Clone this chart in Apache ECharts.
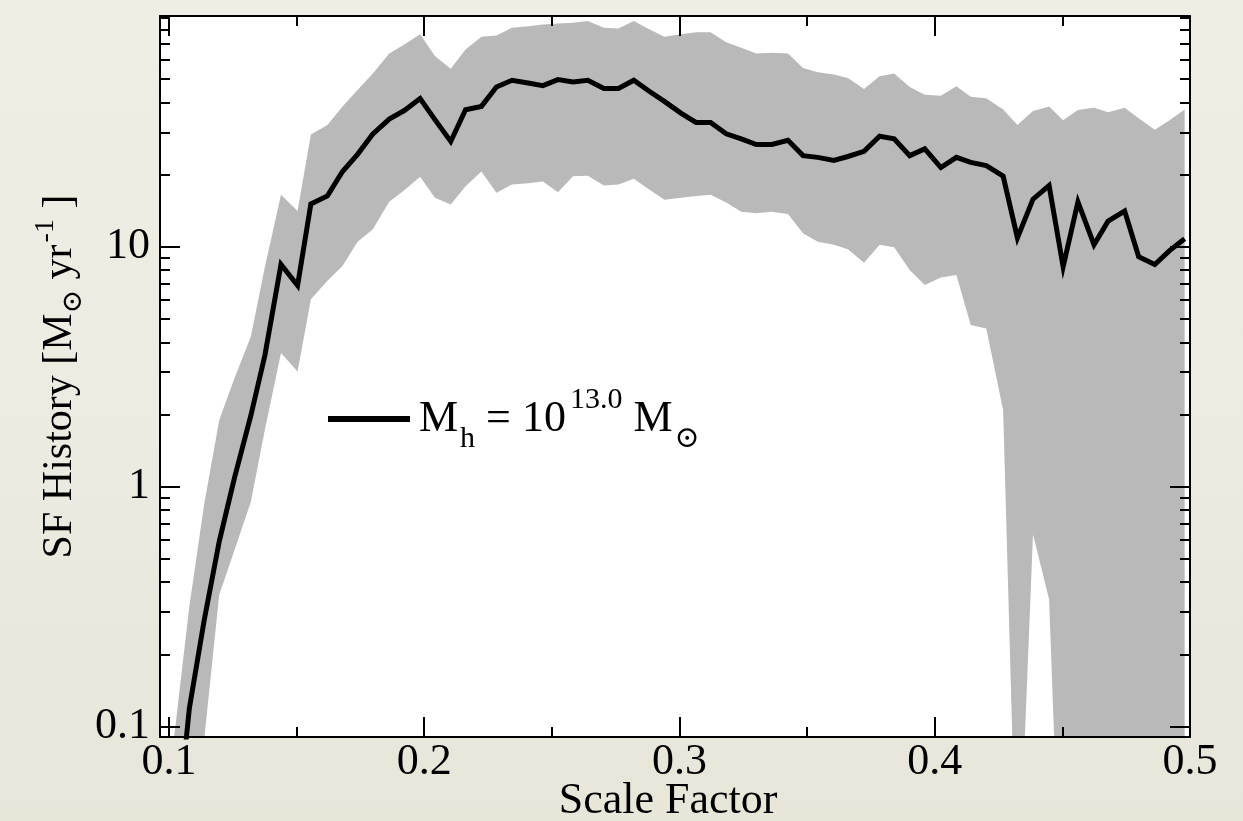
<!DOCTYPE html>
<html>
<head>
<meta charset="utf-8">
<script src="https://cdn.jsdelivr.net/npm/echarts@6/dist/echarts.min.js"></script>
<style>
html,body{margin:0;padding:0;width:1243px;height:821px;overflow:hidden;
  background:linear-gradient(180deg,#efeee5 0%,#ecebe1 55%,#e8e5d9 100%);}
#chart{width:1243px;height:821px;}
</style>
</head>
<body>
<div id="chart"></div>
<script>
// ---- data ----
const scaleFactor = [0.1018,0.1080,0.1138,0.1197,0.1256,0.1321,0.1376,0.1439,0.1504,0.1556,0.1621,0.1680,0.1739,0.1798,0.1863,0.1922,0.1984,0.2042,0.2104,0.2162,0.2224,0.2283,0.2344,0.2407,0.2465,0.2524,0.2583,0.2641,0.2704,0.2761,0.2821,0.2883,0.2941,0.3007,0.3065,0.3122,0.3183,0.3242,0.3301,0.3362,0.3425,0.3484,0.3542,0.3605,0.3660,0.3723,0.3784,0.3841,0.3902,0.3961,0.4024,0.4085,0.4141,0.4202,0.4268,0.4324,0.4385,0.4448,0.4503,0.4561,0.4624,0.4679,0.4744,0.4799,0.4862,0.4920,0.4979];
const sfrMedian = [0.027,0.119,0.277,0.59,1.08,1.98,3.53,8.44,6.9,15.1,16.3,20.6,24.3,29.5,34.1,37.0,41.5,33.9,27.5,37.3,38.5,46.4,49.5,48.2,47.0,49.8,48.7,49.5,45.7,45.7,49.5,44.4,40.4,36.0,33.0,33.0,29.6,28.2,26.7,26.7,27.8,24.0,23.6,22.9,23.8,25.0,28.9,28.2,24.0,25.6,21.4,23.6,22.5,21.8,19.7,10.9,15.8,18.0,8.25,15.4,10.2,12.8,14.1,9.1,8.44,9.64,10.8];
const sfrUpper = [0.086,0.317,0.845,1.89,2.82,4.23,8.26,16.5,14.1,29.4,32.2,38.5,45.1,52.7,63.9,69.8,77.0,62.4,55.2,66.5,75.2,76.1,81.9,83.2,84.5,85.3,85.9,87.3,81.9,81.3,87.3,80.5,75.2,77.0,78.5,78.5,71.3,67.6,64.0,64.4,64.0,55.7,53.4,52.3,50.6,45.5,51.4,52.8,46.4,43.1,42.6,46.7,42.2,41.6,37.4,32.2,36.8,38.5,33.7,37.2,38.0,36.4,38.0,34.4,30.8,33.7,37.4];
const sfrLower = [0.007,0.025,0.088,0.354,0.54,0.865,1.73,3.61,3.02,6.04,7.22,8.32,10.5,11.8,15.4,17.2,19.6,16.0,15.0,17.9,20.6,16.8,18.2,18.4,18.7,16.9,19.7,19.8,18.0,18.2,19.2,17.3,15.7,16.0,16.3,16.5,15.3,14.0,13.8,14.0,13.7,11.4,10.5,10.2,9.78,8.59,10.2,9.97,8.01,6.93,7.45,7.62,4.72,4.56,2.08,0.0155,0.632,0.339,0.0083,0.02,0.02,0.02,0.02,0.02,0.02,0.02,0.02];

const xMajorTicks = [0.1,0.2,0.3,0.4,0.5];
const xMinorTicks = [0.15,0.25,0.35,0.45];
const yMajorTicks = [0.1,1,10];
const yMinorTicks = [0.2,0.3,0.4,0.5,0.6,0.7,0.8,0.9,2,3,4,5,6,7,8,9,20,30,40,50,60,70,80,90];
const seriesName = 'Mh = 10^13.0 Msun';

// ---- chart ----
const FONT = '"Liberation Serif","DejaVu Serif","Times New Roman",serif';
const X_MIN = 0.0965, X_MAX = 0.5, Y_MIN = 0.0904, Y_MAX = 91.7;
const zip = (xs, ys) => xs.map((x, i) => [x, ys[i]]);

function xAxis(position, ticks, len, showLine, showLabels) {
  return {
    type: 'value', position, min: X_MIN, max: X_MAX, z: 10,
    axisLine: {show: showLine, onZero: false, lineStyle: {color: '#000', width: 2}},
    axisTick: {show: true, inside: true, length: len, customValues: ticks, lineStyle: {color: '#000', width: 2}},
    axisLabel: showLabels ? {show: true, customValues: ticks, formatter: v => v.toFixed(1),
      fontFamily: FONT, fontSize: 44, color: '#000', margin: 3} : {show: false},
    splitLine: {show: false}
  };
}
function yAxis(position, ticks, len, showLine, showLabels) {
  return {
    type: 'log', logBase: 10, position, min: Y_MIN, max: Y_MAX, z: 10,
    axisLine: {show: showLine, onZero: false, lineStyle: {color: '#000', width: 2}},
    axisTick: {show: true, inside: true, length: len, customValues: ticks, lineStyle: {color: '#000', width: 2}},
    axisLabel: showLabels ? {show: true, customValues: ticks, formatter: v => (v < 1 ? v.toFixed(1) : String(Math.round(v))),
      fontFamily: FONT, fontSize: 44, color: '#000', margin: 10} : {show: false},
    splitLine: {show: false}
  };
}

const xa0 = xAxis('bottom', xMajorTicks, 20, true, true);
xa0.name = 'Scale Factor';
xa0.nameLocation = 'middle';
xa0.nameGap = 42;
xa0.nameMoveOverlap = false;
xa0.nameTextStyle = {fontFamily: FONT, fontSize: 44, color: '#000', padding: [0, 14, 0, 0]};

const ya0 = yAxis('left', yMajorTicks, 20, true, true);
ya0.name = '{t|SF History [M}{sb|⊙}{t| yr}{sp|-1}{t| ]}';
ya0.nameLocation = 'middle';
ya0.nameRotate = 90;
ya0.nameGap = 72;
ya0.nameMoveOverlap = false;
ya0.nameTextStyle = {fontFamily: FONT, color: '#000', rich: {
  t: {fontFamily: FONT, fontSize: 42, color: '#000', lineHeight: 56},
  sb: {fontFamily: FONT, fontSize: 28, color: '#000', lineHeight: 28, verticalAlign: 'bottom'},
  sp: {fontFamily: FONT, fontSize: 28, color: '#000', lineHeight: 28, verticalAlign: 'top', padding: [0, 0, 0, 2]}
}};

const option = {
  animation: false,
  backgroundColor: 'transparent',
  grid: {left: 160, right: 53, top: 16, bottom: 84, show: true, backgroundColor: '#ffffff', borderWidth: 0,
         containLabel: false, outerBoundsMode: 'none'},
  xAxis: [
    xa0,
    xAxis('bottom', xMinorTicks, 10, false, false),
    xAxis('top', xMajorTicks, 20, true, false),
    xAxis('top', xMinorTicks, 10, false, false)
  ],
  yAxis: [
    ya0,
    yAxis('left', yMinorTicks, 10, false, false),
    yAxis('right', yMajorTicks, 20, true, false),
    yAxis('right', yMinorTicks, 10, false, false)
  ],
  legend: {
    data: [seriesName], selectedMode: false,
    left: 328, top: 379, padding: 0, icon: 'rect', itemWidth: 82, itemHeight: 6, itemGap: 0,
    formatter: () => '{m0|M}{sb|h}{m| = 10}{sp|13.0}{m| M}{sb|⊙}',
    textStyle: {fontFamily: FONT, color: '#000', fontSize: 44, rich: {
      m0: {fontFamily: FONT, fontSize: 44, color: '#000', lineHeight: 80, padding: [0, 0, 0, 4]},
      m: {fontFamily: FONT, fontSize: 44, color: '#000', lineHeight: 80},
      sb: {fontFamily: FONT, fontSize: 30, color: '#000', lineHeight: 30, verticalAlign: 'bottom', padding: [0, 0, 5, 2]},
      sp: {fontFamily: FONT, fontSize: 30, color: '#000', lineHeight: 30, verticalAlign: 'top', padding: [6, 0, 0, 4]}
    }}
  },
  series: [
    {
      name: 'upper', type: 'line', xAxisIndex: 0, yAxisIndex: 0, z: 1,
      data: zip(scaleFactor, sfrUpper), showSymbol: false, symbol: 'none', silent: true,
      lineStyle: {width: 0, color: '#b9b9b9'}, areaStyle: {color: '#b9b9b9', origin: 'start', opacity: 1}
    },
    {
      name: 'lower', type: 'line', xAxisIndex: 0, yAxisIndex: 0, z: 2,
      data: zip(scaleFactor, sfrLower), showSymbol: false, symbol: 'none', silent: true,
      lineStyle: {width: 0, color: '#ffffff'}, areaStyle: {color: '#ffffff', origin: 'start', opacity: 1}
    },
    {
      name: seriesName, type: 'line', xAxisIndex: 0, yAxisIndex: 0, z: 3,
      data: zip(scaleFactor, sfrMedian), showSymbol: false, symbol: 'none',
      color: '#000', itemStyle: {color: '#000'},
      lineStyle: {width: 5, color: '#000', join: 'miter'}
    }
  ]
};

const chart = echarts.init(document.getElementById('chart'), null, {renderer: 'canvas'});
chart.setOption(option);
</script>
</body>
</html>
